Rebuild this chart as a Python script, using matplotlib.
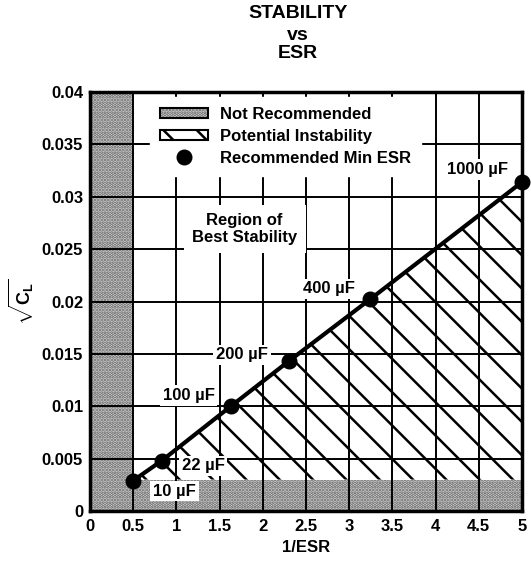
import matplotlib
matplotlib.use("Agg")
import matplotlib.pyplot as plt
from matplotlib.patches import Patch, Rectangle
from matplotlib.lines import Line2D
from matplotlib.legend_handler import HandlerTuple

plt.rcParams['font.family'] = ['Liberation Sans', 'DejaVu Sans']
plt.rcParams['font.weight'] = 'bold'
plt.rcParams['mathtext.fontset'] = 'custom'
plt.rcParams['mathtext.rm'] = 'Liberation Sans:bold'
plt.rcParams['mathtext.it'] = 'Liberation Sans:bold'
plt.rcParams['mathtext.bf'] = 'Liberation Sans:bold'
plt.rcParams['hatch.linewidth'] = 1.8

# Data
inv_esr = [0.5, 0.83, 1.63, 2.30, 3.24, 5.0]
sqrt_cl = [0.0029, 0.0048, 0.0100, 0.0143, 0.0202, 0.0314]
cap_labels = ['10 µF', '22 µF', '100 µF', '200 µF', '400 µF', '1000 µF']
label_x = [0.98, 1.31, 1.14, 1.76, 2.76, 4.48]
label_y = [0.0019, 0.0043, 0.0110, 0.0149, 0.0212, 0.0326]
not_rec_max_x = 0.5
not_rec_max_y = 0.003
x_ticks = [0, 0.5, 1, 1.5, 2, 2.5, 3, 3.5, 4, 4.5, 5]
x_ticklabels = ['0', '0.5', '1', '1.5', '2', '2.5', '3', '3.5', '4', '4.5', '5']
y_ticks = [0, 0.005, 0.01, 0.015, 0.02, 0.025, 0.03, 0.035, 0.04]
y_ticklabels = ['0', '0.005', '0.01', '0.015', '0.02', '0.025', '0.03', '0.035', '0.04']

W, H = 531, 562
fig = plt.figure(figsize=(W / 100, H / 100), dpi=100)
ax = fig.add_axes([90 / W, 1 - 511 / H, 432 / W, 419 / H])
ax.set_xlim(0, 5)
ax.set_ylim(0, 0.04)

stip_face = '#dcdcdc'
stip_dots = '#606060'

# Not recommended regions (stipple)
ax.add_patch(Rectangle((0, 0), not_rec_max_x, 0.04, facecolor=stip_face,
                       edgecolor=stip_dots, hatch='.....', lw=0, zorder=1))
ax.add_patch(Rectangle((not_rec_max_x, 0), 5 - not_rec_max_x, not_rec_max_y,
                       facecolor=stip_face, edgecolor=stip_dots, hatch='.....',
                       lw=0, zorder=1))

# Potential instability (hatched)
ax.fill_between(inv_esr, [not_rec_max_y] * len(inv_esr), sqrt_cl,
                facecolor='white', edgecolor='black', hatch='\\', lw=0, zorder=1)

# Grid
ax.set_xticks(x_ticks)
ax.set_xticklabels(x_ticklabels)
ax.set_yticks(y_ticks)
ax.set_yticklabels(y_ticklabels)
ax.grid(True, color='black', lw=1.4, zorder=2)
ax.set_axisbelow(False)
for gl in ax.get_xgridlines() + ax.get_ygridlines():
    gl.set_zorder(2)
ax.tick_params(length=0, labelsize=12, pad=6)
ax.tick_params(axis='y', pad=5)
for s in ax.spines.values():
    s.set_linewidth(2.5)
    s.set_zorder(10)

# Line and points
ax.plot(inv_esr, sqrt_cl, color='black', lw=3, zorder=5, clip_on=False)
ax.plot(inv_esr, sqrt_cl, 'o', color='black', ms=10.5, zorder=6, clip_on=False)

bbox = dict(facecolor='white', edgecolor='none', pad=2)
for lab, lx, ly in zip(cap_labels, label_x, label_y):
    ax.text(lx, ly, lab, ha='center', va='center', fontsize=12,
            fontweight='bold', bbox=bbox, zorder=4)

ax.text(1.79, 0.0269, 'Region of\nBest Stability', ha='center', va='center',
        fontsize=12, fontweight='bold', linespacing=1.15,
        bbox=dict(facecolor='white', edgecolor='none', pad=6), zorder=4)

# Legend
h_stip = (Patch(facecolor=stip_face, edgecolor=stip_dots, hatch='.....', lw=0),
          Patch(facecolor='none', edgecolor='black', lw=1.5))
h_hatch = Patch(facecolor='white', edgecolor='black', hatch='\\', lw=1.5)
h_dot = Line2D([], [], marker='o', color='black', ls='none', ms=10.5)
leg = ax.legend([h_stip, h_hatch, h_dot],
                ['Not Recommended', 'Potential Instability', 'Recommended Min ESR'],
                handler_map={tuple: HandlerTuple(ndivide=1)},
                loc='upper left', bbox_to_anchor=(0.138, 0.988),
                prop={'size': 12, 'weight': 'bold'},
                handlelength=2.9, handleheight=0.6, labelspacing=0.42,
                handletextpad=0.7, borderpad=0.6, borderaxespad=0,
                frameon=True, fancybox=False, framealpha=1,
                facecolor='white', edgecolor='white')
leg.set_zorder(4)

ax.set_xlabel('1/ESR', fontsize=12, fontweight='bold', labelpad=4)
ax.set_ylabel(r'$\sqrt{C_L}$', fontsize=13, labelpad=4)

fig.text(298 / W, 1 - 14 / H, 'STABILITY', ha='center', va='center',
         fontsize=14, fontweight='bold')
fig.text(298 / W, 1 - 35 / H, 'vs', ha='center', va='center',
         fontsize=14, fontweight='bold')
fig.text(298 / W, 1 - 53 / H, 'ESR', ha='center', va='center',
         fontsize=14, fontweight='bold')

fig.savefig('out.png', dpi=100)
